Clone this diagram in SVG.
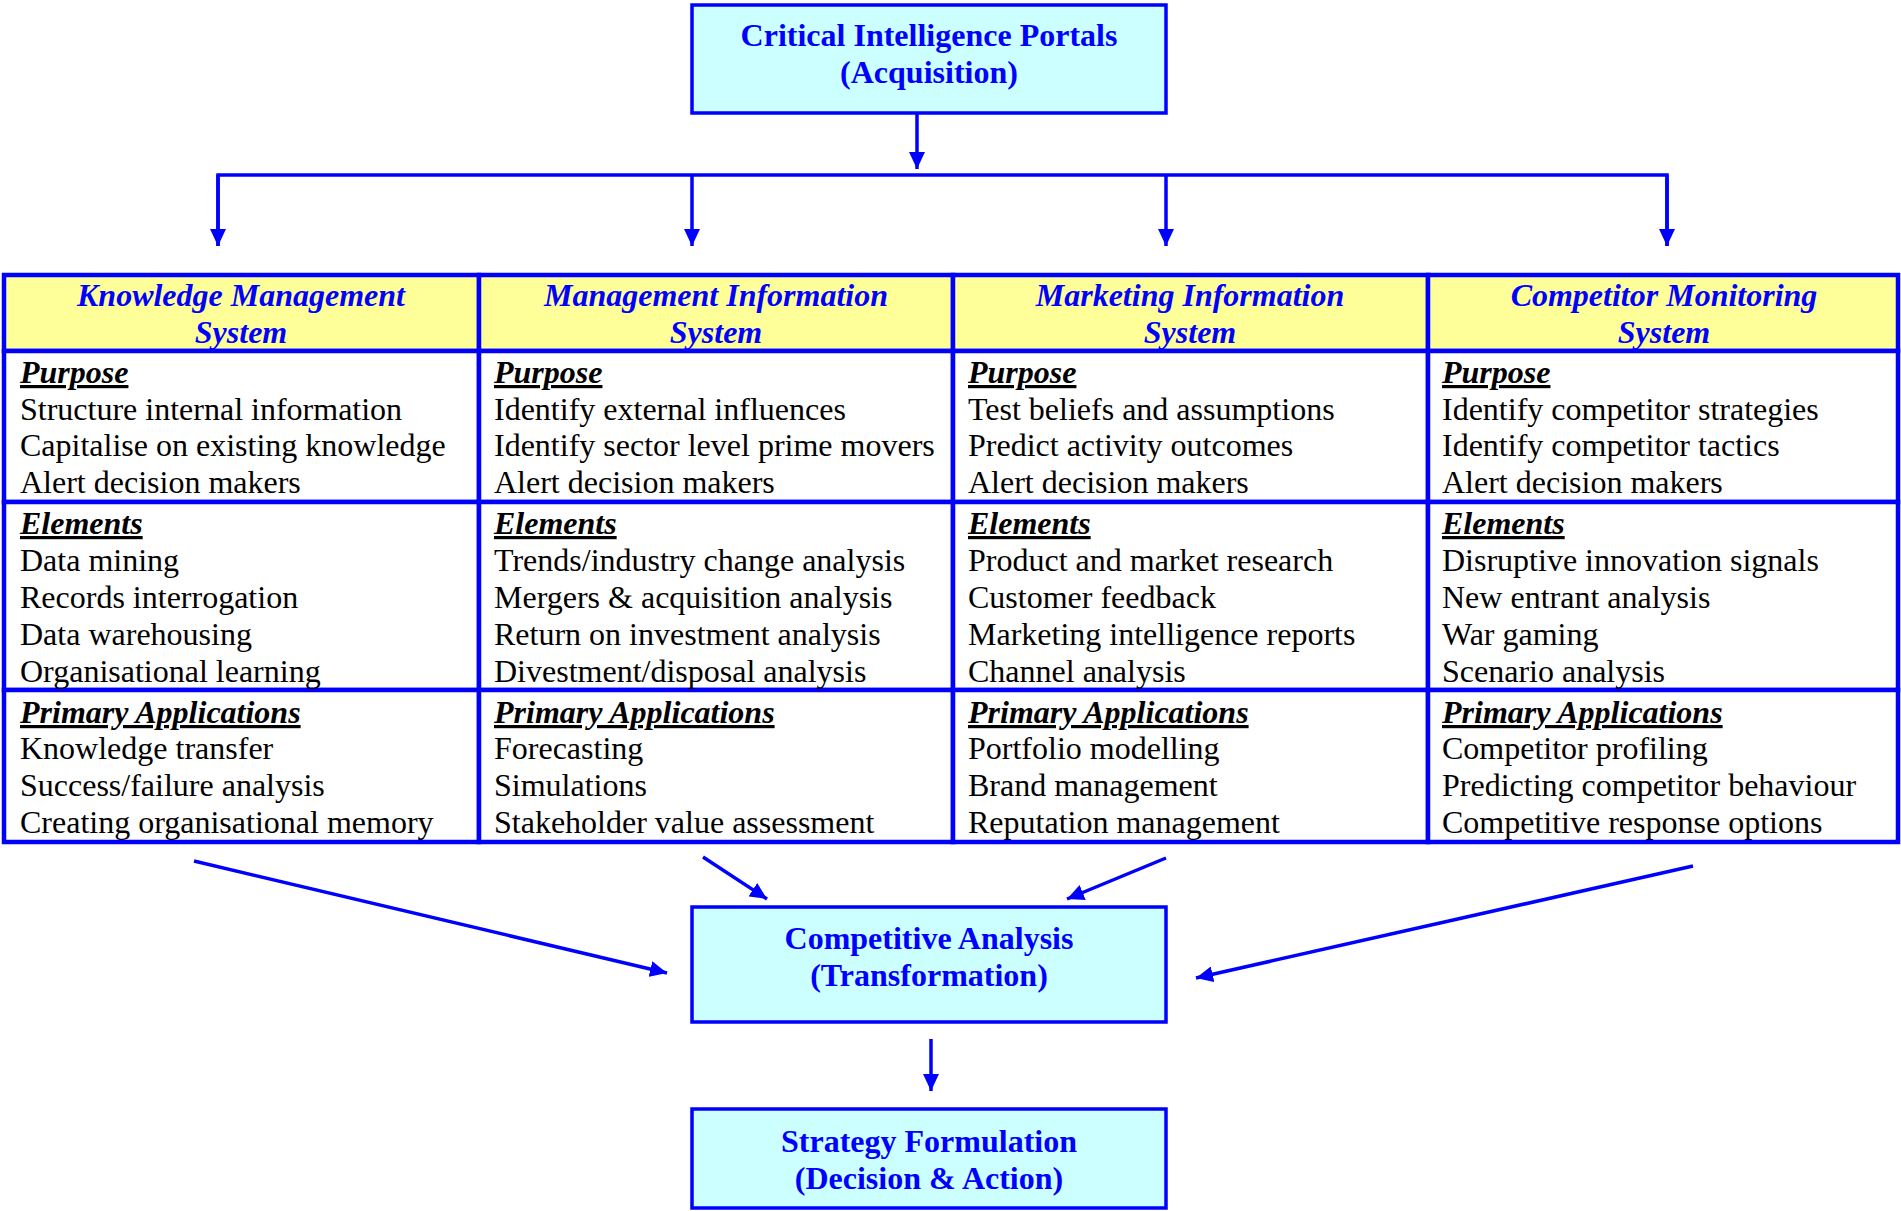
<svg xmlns="http://www.w3.org/2000/svg" width="1901" height="1211" viewBox="0 0 1901 1211">
<defs>
<marker id="ah" markerUnits="userSpaceOnUse" markerWidth="18" markerHeight="16" refX="17" refY="8" orient="auto">
<path d="M0,0 L17,8 L0,16 z" fill="#0000FF"/>
</marker>
<style>
.box{fill:#CCFFFF;stroke:#0000FF;stroke-width:3.5}
.hdr{fill:#FFFF99;stroke:#0000FF;stroke-width:4.5}
.cell{fill:#FFFFFF;stroke:#0000FF;stroke-width:4.5}
.btitle{font-family:"Liberation Serif","Times New Roman",serif;font-size:32px;font-weight:bold;fill:#0000FF;text-anchor:middle}
.htitle{font-family:"Liberation Serif","Times New Roman",serif;font-size:32px;font-weight:bold;font-style:italic;fill:#0000FF;text-anchor:middle}
.sec{font-family:"Liberation Serif","Times New Roman",serif;font-size:32px;font-weight:bold;font-style:italic;fill:#000;text-decoration:underline;text-decoration-thickness:4px;text-underline-offset:3px}
.item{font-family:"Liberation Serif","Times New Roman",serif;font-size:32px;fill:#000}
.conn{stroke:#0000FF;stroke-width:3.5;fill:none}
</style>
</defs>
<rect width="1901" height="1211" fill="#FFFFFF"/>

<g id="connectors">
<line class="conn" x1="917" y1="113" x2="917" y2="169" marker-end="url(#ah)"/>
<polyline class="conn" points="218,246 218,175 1667,175 1667,246"/>
<line class="conn" x1="218" y1="175" x2="218" y2="246" marker-end="url(#ah)"/>
<line class="conn" x1="692" y1="175" x2="692" y2="246" marker-end="url(#ah)"/>
<line class="conn" x1="1166" y1="175" x2="1166" y2="246" marker-end="url(#ah)"/>
<line class="conn" x1="1667" y1="175" x2="1667" y2="246" marker-end="url(#ah)"/>
<line class="conn" x1="194" y1="861" x2="667" y2="973" marker-end="url(#ah)"/>
<line class="conn" x1="703" y1="857" x2="767" y2="899" marker-end="url(#ah)"/>
<line class="conn" x1="1166" y1="858" x2="1067" y2="899" marker-end="url(#ah)"/>
<line class="conn" x1="1693" y1="866" x2="1196" y2="978" marker-end="url(#ah)"/>
<line class="conn" x1="931" y1="1039" x2="931" y2="1091" marker-end="url(#ah)"/>
</g>

<g id="portals">
<rect class="box" x="692" y="5" width="474" height="108"/>
<text class="btitle" x="929" y="46">Critical Intelligence Portals</text>
<text class="btitle" x="929" y="83">(Acquisition)</text>
</g>

<g id="kms">
<rect class="hdr" x="4" y="275" width="475" height="76"/>
<rect class="cell" x="4" y="351" width="475" height="151"/>
<rect class="cell" x="4" y="502" width="475" height="188"/>
<rect class="cell" x="4" y="690" width="475" height="152"/>
<text class="htitle" x="241" y="306">Knowledge Management</text>
<text class="htitle" x="241" y="343">System</text>
<text class="sec" x="20" y="383">Purpose</text>
<text class="item" x="20" y="420">Structure internal information</text>
<text class="item" x="20" y="456">Capitalise on existing knowledge</text>
<text class="item" x="20" y="493">Alert decision makers</text>
<text class="sec" x="20" y="534">Elements</text>
<text class="item" x="20" y="571">Data mining</text>
<text class="item" x="20" y="608">Records interrogation</text>
<text class="item" x="20" y="645">Data warehousing</text>
<text class="item" x="20" y="682">Organisational learning</text>
<text class="sec" x="20" y="723">Primary Applications</text>
<text class="item" x="20" y="759">Knowledge transfer</text>
<text class="item" x="20" y="796">Success/failure analysis</text>
<text class="item" x="20" y="833">Creating organisational memory</text>
</g>

<g id="mis">
<rect class="hdr" x="479" y="275" width="474" height="76"/>
<rect class="cell" x="479" y="351" width="474" height="151"/>
<rect class="cell" x="479" y="502" width="474" height="188"/>
<rect class="cell" x="479" y="690" width="474" height="152"/>
<text class="htitle" x="716" y="306">Management Information</text>
<text class="htitle" x="716" y="343">System</text>
<text class="sec" x="494" y="383">Purpose</text>
<text class="item" x="494" y="420">Identify external influences</text>
<text class="item" x="494" y="456">Identify sector level prime movers</text>
<text class="item" x="494" y="493">Alert decision makers</text>
<text class="sec" x="494" y="534">Elements</text>
<text class="item" x="494" y="571">Trends/industry change analysis</text>
<text class="item" x="494" y="608">Mergers &amp; acquisition analysis</text>
<text class="item" x="494" y="645">Return on investment analysis</text>
<text class="item" x="494" y="682">Divestment/disposal analysis</text>
<text class="sec" x="494" y="723">Primary Applications</text>
<text class="item" x="494" y="759">Forecasting</text>
<text class="item" x="494" y="796">Simulations</text>
<text class="item" x="494" y="833">Stakeholder value assessment</text>
</g>

<g id="mkis">
<rect class="hdr" x="953" y="275" width="475" height="76"/>
<rect class="cell" x="953" y="351" width="475" height="151"/>
<rect class="cell" x="953" y="502" width="475" height="188"/>
<rect class="cell" x="953" y="690" width="475" height="152"/>
<text class="htitle" x="1190" y="306">Marketing Information</text>
<text class="htitle" x="1190" y="343">System</text>
<text class="sec" x="968" y="383">Purpose</text>
<text class="item" x="968" y="420">Test beliefs and assumptions</text>
<text class="item" x="968" y="456">Predict activity outcomes</text>
<text class="item" x="968" y="493">Alert decision makers</text>
<text class="sec" x="968" y="534">Elements</text>
<text class="item" x="968" y="571">Product and market research</text>
<text class="item" x="968" y="608">Customer feedback</text>
<text class="item" x="968" y="645">Marketing intelligence reports</text>
<text class="item" x="968" y="682">Channel analysis</text>
<text class="sec" x="968" y="723">Primary Applications</text>
<text class="item" x="968" y="759">Portfolio modelling</text>
<text class="item" x="968" y="796">Brand management</text>
<text class="item" x="968" y="833">Reputation management</text>
</g>

<g id="cms">
<rect class="hdr" x="1428" y="275" width="470" height="76"/>
<rect class="cell" x="1428" y="351" width="470" height="151"/>
<rect class="cell" x="1428" y="502" width="470" height="188"/>
<rect class="cell" x="1428" y="690" width="470" height="152"/>
<text class="htitle" x="1664" y="306">Competitor Monitoring</text>
<text class="htitle" x="1664" y="343">System</text>
<text class="sec" x="1442" y="383">Purpose</text>
<text class="item" x="1442" y="420">Identify competitor strategies</text>
<text class="item" x="1442" y="456">Identify competitor tactics</text>
<text class="item" x="1442" y="493">Alert decision makers</text>
<text class="sec" x="1442" y="534">Elements</text>
<text class="item" x="1442" y="571">Disruptive innovation signals</text>
<text class="item" x="1442" y="608">New entrant analysis</text>
<text class="item" x="1442" y="645">War gaming</text>
<text class="item" x="1442" y="682">Scenario analysis</text>
<text class="sec" x="1442" y="723">Primary Applications</text>
<text class="item" x="1442" y="759">Competitor profiling</text>
<text class="item" x="1442" y="796">Predicting competitor behaviour</text>
<text class="item" x="1442" y="833">Competitive response options</text>
</g>

<g id="analysis">
<rect class="box" x="692" y="907" width="474" height="115"/>
<text class="btitle" x="929" y="949">Competitive Analysis</text>
<text class="btitle" x="929" y="986">(Transformation)</text>
</g>

<g id="strategy">
<rect class="box" x="692" y="1109" width="474" height="99"/>
<text class="btitle" x="929" y="1152">Strategy Formulation</text>
<text class="btitle" x="929" y="1189">(Decision &amp; Action)</text>
</g>
</svg>
